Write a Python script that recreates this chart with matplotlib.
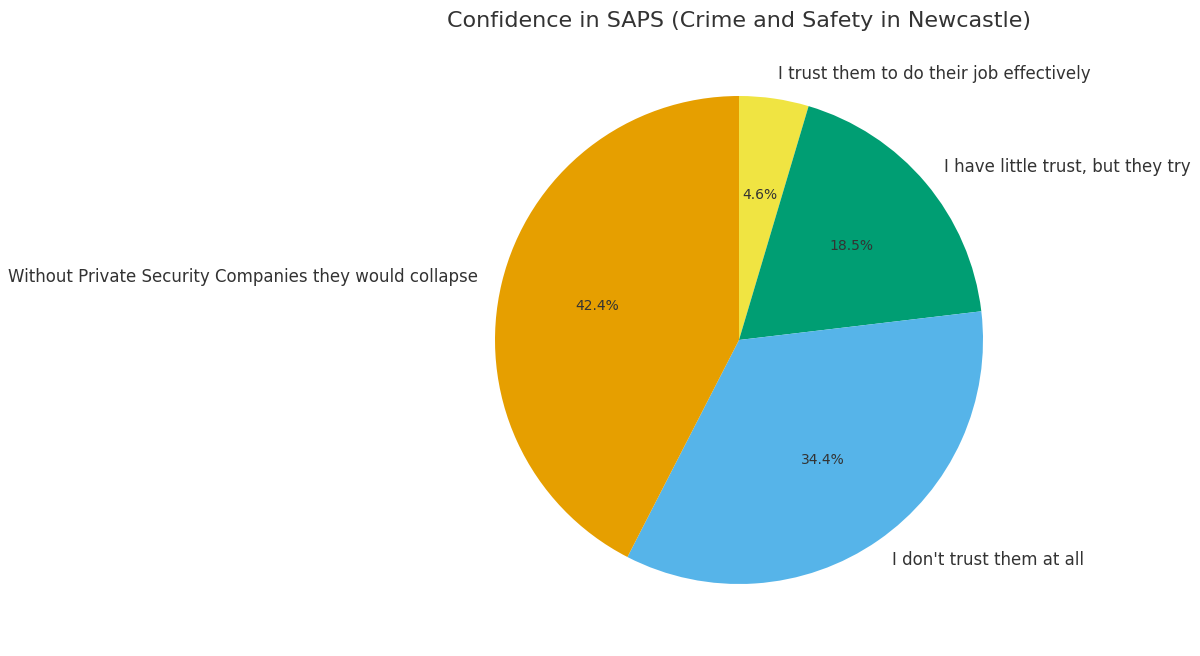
import matplotlib
matplotlib.use("Agg")
import matplotlib.pyplot as plt

# Dados do gráfico
labels = [
    "I trust them to do their job effectively",
    "I have little trust, but they try",
    "I don't trust them at all",
    "Without Private Security Companies they would collapse",
]
values = [4.6, 18.5, 34.4, 42.4]
colors = ["#F0E442", "#009E73", "#56B4E9", "#E69F00"]

text_color = "#333333"

fig = plt.figure(figsize=(12, 6.56), dpi=100)
# eixo posicionado para que o centro fique em (739, 340) px e raio ~244 px
ax = fig.add_axes([434 / 1200, 11 / 656, 610 / 1200, 610 / 656])

wedges, texts, autotexts = ax.pie(
    values,
    labels=labels,
    colors=colors,
    autopct="%1.1f%%",
    startangle=90,
    counterclock=False,
    textprops={"color": text_color},
)
for t in texts:
    t.set_fontsize(12)
for t in autotexts:
    t.set_fontsize(10)

ax.set_aspect("equal")
ax.set_xlim(-1.25, 1.25)
ax.set_ylim(-1.25, 1.25)
ax.set_title("Confidence in SAPS (Crime and Safety in Newcastle)",
             fontsize=16, color=text_color)

fig.savefig("out.png", dpi=100)
